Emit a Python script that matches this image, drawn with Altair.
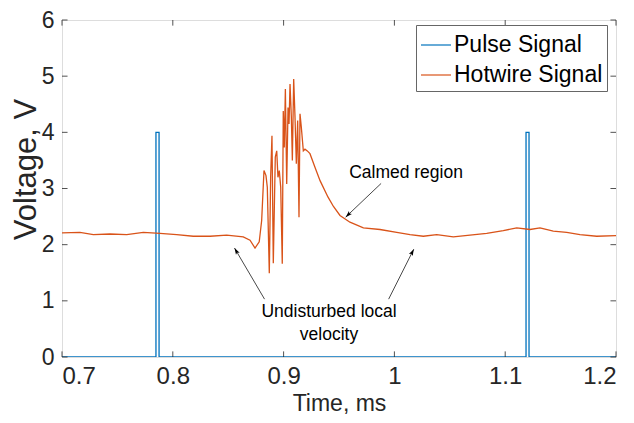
import altair as alt
import pandas as pd

# Hotwire signal (time in ms, voltage in V)
t_hot = [0.700, 0.7162, 0.7283, 0.7433, 0.7584, 0.7734, 0.7884, 0.8035, 0.8185, 0.8336,
         0.8486, 0.8636, 0.8697, 0.8742, 0.878, 0.8802, 0.8823, 0.8841, 0.8853, 0.8871,
         0.8883, 0.8895, 0.8907, 0.8925, 0.8938, 0.8949, 0.8961, 0.8974, 0.8988, 0.8997,
         0.9006, 0.9016, 0.9028, 0.904, 0.9049, 0.9058, 0.907, 0.9079, 0.9091, 0.9103,
         0.9115, 0.9127, 0.9139, 0.9148, 0.916, 0.9178, 0.9193, 0.9214, 0.9238, 0.9283,
         0.9329, 0.940, 0.945, 0.9509, 0.9599, 0.972, 0.987, 1.0021, 1.0141, 1.0261,
         1.0382, 1.0532, 1.0682, 1.0833, 1.0983, 1.1104, 1.1224, 1.1314, 1.1434, 1.1555,
         1.1675, 1.1826, 1.200]
v_hot = [2.21, 2.22, 2.18, 2.19, 2.18, 2.22, 2.20, 2.18, 2.15, 2.15,
         2.17, 2.14, 2.08, 1.94, 2.05, 2.43, 3.32, 3.23, 3.02, 1.49,
         3.20, 3.94, 1.67, 3.56, 3.67, 3.20, 3.32, 3.02, 1.66, 4.38,
         3.73, 4.77, 3.08, 4.44, 4.15, 4.86, 4.27, 3.50, 4.95, 4.27,
         3.44, 4.21, 2.49, 4.33, 4.09, 3.67, 3.70, 3.67, 3.62, 3.38,
         3.14, 2.85, 2.68, 2.52, 2.40, 2.30, 2.27, 2.22, 2.18, 2.15,
         2.18, 2.14, 2.17, 2.20, 2.25, 2.30, 2.27, 2.30, 2.24, 2.22,
         2.18, 2.15, 2.16]

# Pulse signal
t_pulse = [0.700, 0.7848, 0.7848, 0.7876, 0.7876, 1.1188, 1.1188, 1.1215, 1.1215, 1.200]
v_pulse = [0, 0, 4, 4, 0, 0, 4, 4, 0, 0]

series_names = ["Pulse Signal", "Hotwire Signal"]
series_colors = ["#0072BD", "#D95319"]

x_ticks = [0.7, 0.8, 0.9, 1.0, 1.1, 1.2]
y_ticks = [0, 1, 2, 3, 4, 5, 6]

# Annotations (data coordinates)
ann_text = ["Calmed region", "Undisturbed local", "velocity"]
ann_tx = [1.0105, 0.941, 0.941]
ann_ty = [3.27, 0.80, 0.39]
arrow_x0 = [0.988, 0.8828, 0.9948]
arrow_y0 = [3.09, 1.03, 1.03]
arrow_x1 = [0.956, 0.8557, 1.0175]
arrow_y1 = [2.49, 1.94, 1.92]
arrow_angle = [226, 330, 27]

FONT = "Liberation Sans"
INK = "#262626"

rows = []
for i, (t, v) in enumerate(zip(t_pulse, v_pulse)):
    rows.append({"t": t, "v": v, "series": series_names[0], "idx": i})
for i, (t, v) in enumerate(zip(t_hot, v_hot)):
    rows.append({"t": t, "v": v, "series": series_names[1], "idx": i})
df = pd.DataFrame(rows)

xs = alt.Scale(domain=[0.7, 1.2], nice=False, zero=False)
ys = alt.Scale(domain=[0, 6], nice=False)

lines = alt.Chart(df).mark_line(strokeWidth=1.3, clip=True).encode(
    x=alt.X("t:Q", scale=xs, axis=alt.Axis(values=x_ticks, ticks=False, domain=False, grid=False,
                                           labelFontSize=24, labelFont=FONT, labelColor=INK,
                                           labelPadding=7, title="Time, ms", titleFont=FONT,
                                           titleFontSize=23, titleFontWeight="normal",
                                           titleColor=INK, titlePadding=4,
                                           labelExpr="datum.value == 1 ? '1' : format(datum.value, '.1f')")),
    y=alt.Y("v:Q", scale=ys, axis=alt.Axis(values=y_ticks, ticks=False, domain=False, grid=False,
                                           format="d",
                                           labelFontSize=23, labelFont=FONT, labelColor=INK,
                                           labelPadding=8, title="Voltage, V", titleFont=FONT,
                                           titleFontSize=31, titleFontWeight="normal",
                                           titleColor=INK, titleAngle=270, titleX=-36, titleY=149,
                                           titleAlign="center", titleBaseline="middle")),
    color=alt.Color("series:N", scale=alt.Scale(domain=series_names, range=series_colors),
                    legend=alt.Legend(title=None, orient="none", legendX=354, legendY=5,
                                      symbolType="stroke", symbolSize=900, symbolStrokeWidth=1.2,
                                      labelFontSize=23, labelFont=FONT, labelColor="black",
                                      strokeColor="#666666", fillColor="white", padding=4,
                                      rowPadding=2, labelOffset=2, labelLimit=300)),
    order=alt.Order("idx:Q"),
)

# inward ticks
tick_rows = []
for t in x_ticks:
    tick_rows.append({"x": t, "x2": t, "y": 0, "y2": 0.1})
    tick_rows.append({"x": t, "x2": t, "y": 6, "y2": 5.9})
for v in y_ticks:
    tick_rows.append({"x": 0.7, "x2": 0.705, "y": v, "y2": v})
    tick_rows.append({"x": 1.2, "x2": 1.195, "y": v, "y2": v})
ticks = alt.Chart(pd.DataFrame(tick_rows)).mark_rule(color=INK, strokeWidth=0.8).encode(
    x=alt.X("x:Q", scale=xs), x2="x2:Q", y=alt.Y("y:Q", scale=ys), y2="y2:Q")

adf = pd.DataFrame({"x0": arrow_x0, "y0": arrow_y0, "x1": arrow_x1, "y1": arrow_y1, "a": arrow_angle})
arrow_lines = alt.Chart(adf).mark_rule(color="#333333", strokeWidth=0.9).encode(
    x=alt.X("x0:Q", scale=xs), y=alt.Y("y0:Q", scale=ys), x2="x1:Q", y2="y1:Q")
arrow_heads = alt.Chart(adf).mark_point(shape="M0,0L-0.45,1.4L0,1.1L0.45,1.4Z", filled=True,
                                        color="black", size=90, opacity=1).encode(
    x=alt.X("x1:Q", scale=xs), y=alt.Y("y1:Q", scale=ys), angle=alt.Angle("a:Q", scale=None))

tdf = pd.DataFrame({"x": ann_tx, "y": ann_ty, "text": ann_text})
labels = alt.Chart(tdf).mark_text(font=FONT, fontSize=17.5, color="black", align="center",
                                  baseline="middle").encode(
    x=alt.X("x:Q", scale=xs), y=alt.Y("y:Q", scale=ys), text="text:N")

chart = alt.layer(lines, ticks, arrow_lines, arrow_heads, labels).properties(
    width=554, height=337,
    autosize=alt.AutoSizeParams(type="none"),
    padding={"left": 54, "top": 12, "right": 10, "bottom": 58},
).configure_view(stroke=INK, strokeWidth=0.8).configure(background="white")

chart.save("out.html", embed_options={"renderer": "svg", "actions": False})
